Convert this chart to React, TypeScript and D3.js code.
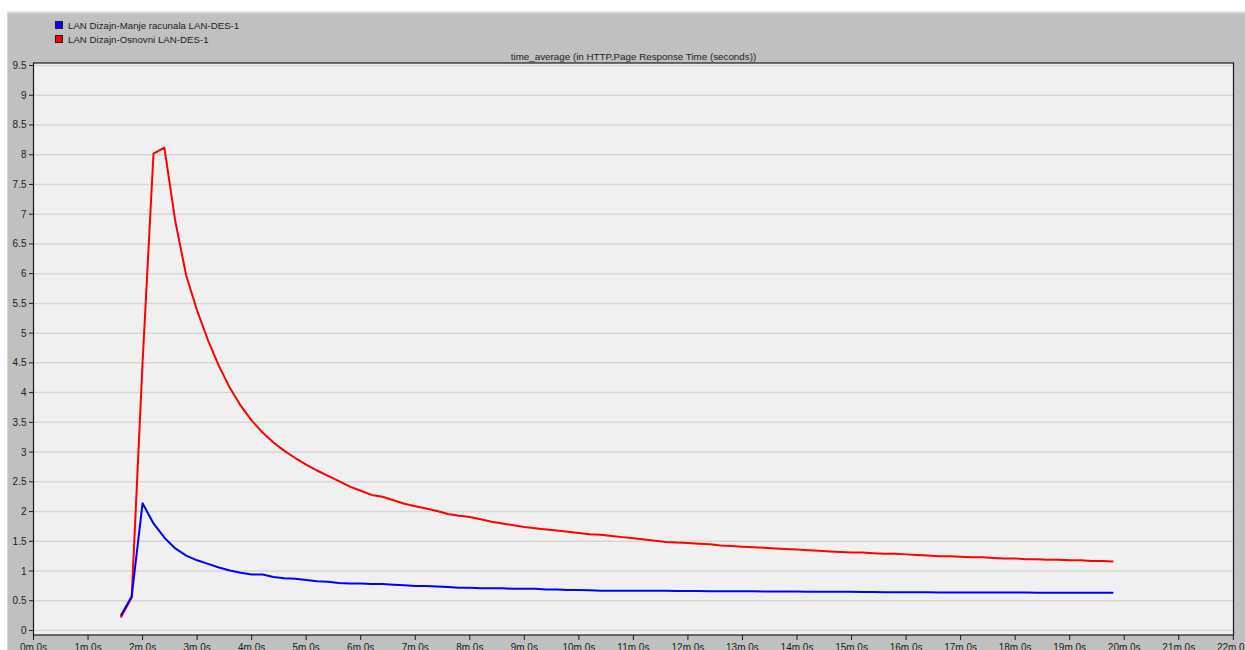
import React from "react";
import * as d3 from "d3";

const timesMin = [
  1.6, 1.8, 2.0, 2.2, 2.4, 2.6, 2.8, 3.0, 3.2, 3.4, 3.6, 3.8, 4.0, 4.2, 4.4, 4.6, 4.8, 5.0,
  5.2, 5.4, 5.6, 5.8, 6.0, 6.2, 6.4, 6.6, 6.8, 7.0, 7.2, 7.4, 7.6, 7.8, 8.0, 8.2, 8.4, 8.6,
  8.8, 9.0, 9.2, 9.4, 9.6, 9.8, 10.0, 10.2, 10.4, 10.6, 10.8, 11.0, 11.2, 11.4, 11.6, 11.8,
  12.0, 12.2, 12.4, 12.6, 12.8, 13.0, 13.2, 13.4, 13.6, 13.8, 14.0, 14.2, 14.4, 14.6, 14.8,
  15.0, 15.2, 15.4, 15.6, 15.8, 16.0, 16.2, 16.4, 16.6, 16.8, 17.0, 17.2, 17.4, 17.6, 17.8,
  18.0, 18.2, 18.4, 18.6, 18.8, 19.0, 19.2, 19.4, 19.6, 19.8,
];

const osnovni = [
  0.22, 0.55, 4.5, 8.02, 8.12, 6.88, 5.97, 5.38, 4.88, 4.45, 4.08, 3.78, 3.53, 3.33, 3.16, 3.02, 2.9, 2.79,
  2.69, 2.6, 2.51, 2.42, 2.35, 2.28, 2.25, 2.19, 2.13, 2.09, 2.05, 2.01, 1.96, 1.93, 1.91, 1.87, 1.83, 1.8,
  1.77, 1.74, 1.72, 1.7, 1.68, 1.66, 1.64, 1.62, 1.61, 1.59, 1.57, 1.55, 1.53, 1.51, 1.49, 1.48,
  1.47, 1.46, 1.45, 1.43, 1.42, 1.41, 1.4, 1.39, 1.38, 1.37, 1.36, 1.35, 1.34, 1.33, 1.32,
  1.31, 1.31, 1.3, 1.29, 1.29, 1.28, 1.27, 1.26, 1.25, 1.25, 1.24, 1.23, 1.23, 1.22, 1.21,
  1.21, 1.2, 1.2, 1.19, 1.19, 1.18, 1.18, 1.17, 1.17, 1.16,
];

const manje = [
  0.25, 0.57, 2.14, 1.8, 1.56, 1.38, 1.26, 1.18, 1.12, 1.06, 1.01, 0.97, 0.94, 0.94, 0.9, 0.88, 0.87, 0.85,
  0.83, 0.82, 0.8, 0.79, 0.79, 0.78, 0.78, 0.77, 0.76, 0.75, 0.75, 0.74, 0.73, 0.72, 0.72, 0.71, 0.71, 0.71,
  0.7, 0.7, 0.7, 0.69, 0.69, 0.68, 0.68, 0.675, 0.67, 0.67, 0.67, 0.67, 0.67, 0.67, 0.67, 0.665,
  0.665, 0.665, 0.66, 0.66, 0.66, 0.66, 0.66, 0.655, 0.655, 0.655, 0.655, 0.65, 0.65, 0.65, 0.65,
  0.65, 0.648, 0.646, 0.645, 0.644, 0.643, 0.642, 0.642, 0.641, 0.64, 0.64, 0.64, 0.639, 0.638, 0.638,
  0.637, 0.637, 0.636, 0.636, 0.636, 0.635, 0.635, 0.635, 0.634, 0.634,
];

const yTicks = [0, 0.5, 1, 1.5, 2, 2.5, 3, 3.5, 4, 4.5, 5, 5.5, 6, 6.5, 7, 7.5, 8, 8.5, 9, 9.5];
const xTicks = [0, 1, 2, 3, 4, 5, 6, 7, 8, 9, 10, 11, 12, 13, 14, 15, 16, 17, 18, 19, 20, 21, 22];

const series = [
  { name: "LAN Dizajn-Osnovni LAN-DES-1", color: "#ff0000", values: osnovni },
  { name: "LAN Dizajn-Manje racunala LAN-DES-1", color: "#0000ff", values: manje },
];
const legendOrder = [series[1], series[0]];

const title = "time_average (in HTTP.Page Response Time (seconds))";

export default function App() {
  const W = 1245;
  const H = 650;
  const plot = { left: 33.5, right: 1233.5, top: 63, bottom: 635 };
  const x = d3.scaleLinear().domain([0, 22]).range([plot.left, 1233.3]);
  const y = d3.scaleLinear().domain([0, 9.5]).range([630.5, 65.5]);
  const font = "'Liberation Sans', Arial, sans-serif";

  const line = (vals: number[]) =>
    d3
      .line<number>()
      .x((_, i) => x(timesMin[i]))
      .y((v) => y(v))(vals) || "";

  return (
    <svg
      width={W}
      height={H}
      style={{ position: "absolute", left: 0, top: 0, display: "block" }}
      fontFamily={font}
    >
      <rect x={0} y={0} width={W} height={H} fill="#ffffff" />
      <rect x={7} y={12} width={W - 7} height={H - 12} fill="#c0c0c0" />
      <line x1={7} y1={12.5} x2={W} y2={12.5} stroke="#d8d8d8" strokeWidth={2} />
      <line x1={7.5} y1={12} x2={7.5} y2={H} stroke="#d8d8d8" strokeWidth={1} />

      {legendOrder.map((s, i) => (
        <g key={s.name}>
          <rect
            x={55.5}
            y={21.5 + i * 14}
            width={7}
            height={7}
            fill={s.color}
            stroke="#202020"
            strokeWidth={1}
          />
          <text x={68} y={28.5 + i * 14} fontSize={9.7} fill="#202020">
            {s.name}
          </text>
        </g>
      ))}

      <text x={(plot.left + plot.right) / 2} y={59.5} fontSize={9.8} fill="#202020" textAnchor="middle">
        {title}
      </text>

      <rect
        x={plot.left}
        y={plot.top}
        width={plot.right - plot.left}
        height={plot.bottom - plot.top}
        fill="#f0f0f0"
      />

      {yTicks.map((t) => (
        <line
          key={"g" + t}
          x1={plot.left}
          x2={plot.right}
          y1={y(t)}
          y2={y(t)}
          stroke="#d6d6d6"
          strokeWidth={1.5}
        />
      ))}

      <rect
        x={plot.left}
        y={plot.top}
        width={plot.right - plot.left}
        height={plot.bottom - plot.top}
        fill="none"
        stroke="#1a1a1a"
        strokeWidth={1.2}
      />

      {yTicks.map((t) => (
        <g key={"y" + t}>
          <line x1={29} x2={plot.left} y1={y(t)} y2={y(t)} stroke="#1a1a1a" strokeWidth={1} />
          <text x={26.5} y={y(t) + 3.5} fontSize={10} fill="#202020" textAnchor="end">
            {String(t)}
          </text>
        </g>
      ))}

      {xTicks.map((t) => (
        <g key={"x" + t}>
          <line x1={x(t)} x2={x(t)} y1={plot.bottom} y2={plot.bottom + 5} stroke="#1a1a1a" strokeWidth={1} />
          <text x={x(t)} y={651} fontSize={10} fill="#202020" textAnchor="middle">
            {`${t}m 0s`}
          </text>
        </g>
      ))}

      {series.map((s) => (
        <path
          key={s.name}
          d={line(s.values)}
          fill="none"
          stroke={s.color}
          strokeWidth={2}
          strokeLinejoin="round"
        />
      ))}
    </svg>
  );
}
